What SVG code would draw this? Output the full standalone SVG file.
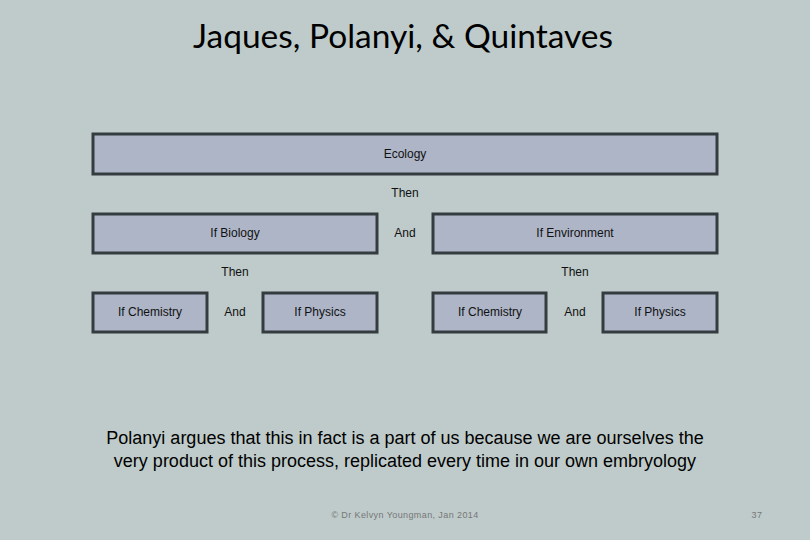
<svg xmlns="http://www.w3.org/2000/svg" width="810" height="540" viewBox="0 0 810 540">
<style>
.box{fill:#adb5c7;stroke:#353c40;stroke-width:3}
.t{font-family:"Liberation Sans",Arial,sans-serif;font-size:12px;fill:#111;text-anchor:middle}
.title{font-family:Lato,"Open Sans",sans-serif;font-size:33.5px;fill:#000;text-anchor:middle}
.body{font-family:"Liberation Sans",Arial,sans-serif;font-size:18px;fill:#000;text-anchor:middle}
.foot{font-family:"Liberation Sans",Arial,sans-serif;font-size:9px;fill:#777;text-anchor:middle;letter-spacing:0.4px}
</style>
<rect width="810" height="540" fill="#becbca"/>
<text class="title" x="403" y="48">Jaques, Polanyi, &amp; Quintaves</text>
<g id="ecology"><rect class="box" x="93" y="134" width="624" height="40"/><text class="t" x="405" y="158">Ecology</text></g>
<g id="connectors">
<text class="t" x="405" y="197">Then</text>
<text class="t" x="405" y="237">And</text>
<text class="t" x="235" y="276">Then</text>
<text class="t" x="575" y="276">Then</text>
<text class="t" x="235" y="316">And</text>
<text class="t" x="575" y="316">And</text>
</g>
<g id="biology"><rect class="box" x="93" y="214" width="284" height="39"/><text class="t" x="235" y="237">If Biology</text></g>
<g id="environment"><rect class="box" x="433" y="214" width="284" height="39"/><text class="t" x="575" y="237">If Environment</text></g>
<g id="chem1"><rect class="box" x="93" y="293" width="114" height="39"/><text class="t" x="150" y="316">If Chemistry</text></g>
<g id="phys1"><rect class="box" x="263" y="293" width="114" height="39"/><text class="t" x="320" y="316">If Physics</text></g>
<g id="chem2"><rect class="box" x="433" y="293" width="113" height="39"/><text class="t" x="490" y="316">If Chemistry</text></g>
<g id="phys2"><rect class="box" x="603" y="293" width="114" height="39"/><text class="t" x="660" y="316">If Physics</text></g>
<text class="body" x="405" y="444">Polanyi argues that this in fact is a part of us because we are ourselves the</text>
<text class="body" x="405" y="467">very product of this process, replicated every time in our own embryology</text>
<text class="foot" x="405" y="518">© Dr Kelvyn Youngman, Jan 2014</text>
<text class="foot" x="757" y="518">37</text>
</svg>
